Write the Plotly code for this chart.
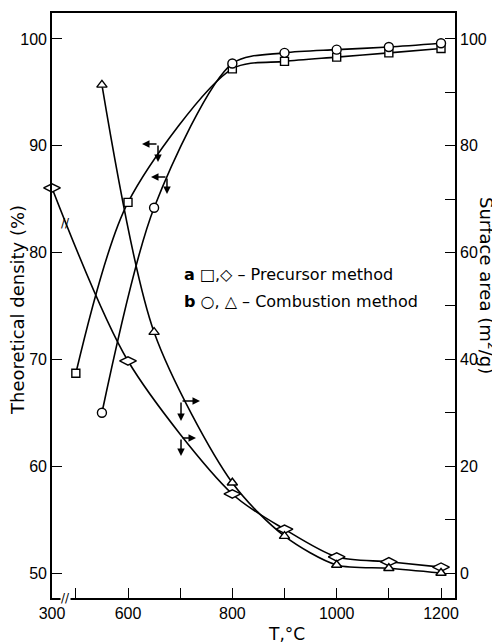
import plotly.graph_objects as go

# ---- data ----
T_sq = [500, 600, 800, 900, 1000, 1100, 1200]
dens_sq = [68.7, 84.7, 97.2, 97.9, 98.3, 98.7, 99.1]          # a, precursor, density (%)
T_ci = [550, 650, 800, 900, 1000, 1100, 1200]
dens_ci = [65.0, 84.2, 97.7, 98.7, 99.0, 99.25, 99.6]         # b, combustion, density (%)
T_di = [300, 600, 800, 900, 1000, 1100, 1200]
area_di = [72.1, 39.7, 14.8, 8.2, 3.0, 2.1, 1.1]              # a, precursor, surface area
T_tr = [550, 650, 800, 900, 1000, 1100, 1200]
area_tr = [91.4, 45.1, 16.9, 6.9, 1.5, 0.9, 0.0]              # b, combustion, surface area

x_tick_vals = [300, 500, 600, 700, 800, 900, 1000, 1100, 1200]
x_tick_text = ["300", "", "600", "", "800", "", "1000", "", "1200"]
y_ticks = [50, 60, 70, 80, 90, 100]
y2_ticks = [0, 20, 40, 60, 80, 100]

# axis geometry
X_BREAK = 454.3          # where the broken axis shows T = 300
X_RANGE = [X_BREAK, 1226.8]
Y_RANGE = [47.66, 102.43]
Y2_RANGE = [-4.68, 104.86]

W, H = 500, 644
OFF = 8                  # page body margin offsets the figure in the window
PL, PT, PW, PH = 52, 13, 403, 585   # plot area in window pixels
ML, MT = PL - OFF, PT - OFF
MR, MB = W - ML - PW, H - MT - PH
pxx = PW / (X_RANGE[1] - X_RANGE[0])
pxy = PH / (Y_RANGE[1] - Y_RANGE[0])
pxy2 = PH / (Y2_RANGE[1] - Y2_RANGE[0])


def px(xw):
    return (xw - PL) / PW


def py(yw):
    return (PT + PH - yw) / PH


def tx(t):
    return X_BREAK if t < 450 else t


BLACK = "black"
line = dict(color=BLACK, width=1.6, shape="spline", smoothing=0.8)

fig = go.Figure()
fig.add_trace(go.Scatter(x=[tx(t) for t in T_sq], y=dens_sq, mode="lines+markers",
                         line=line, cliponaxis=False,
                         marker=dict(symbol="square", size=8, color="white",
                                     line=dict(color=BLACK, width=1.4))))
fig.add_trace(go.Scatter(x=[tx(t) for t in T_ci], y=dens_ci, mode="lines+markers",
                         line=line, cliponaxis=False,
                         marker=dict(symbol="circle", size=9, color="white",
                                     line=dict(color=BLACK, width=1.4))))
fig.add_trace(go.Scatter(x=[tx(t) for t in T_di], y=area_di, mode="lines+markers",
                         line=line, yaxis="y2", cliponaxis=False,
                         marker=dict(symbol="diamond-wide", size=12, color="white",
                                     line=dict(color=BLACK, width=1.4))))
fig.add_trace(go.Scatter(x=[tx(t) for t in T_tr], y=area_tr, mode="lines+markers",
                         line=line, yaxis="y2", cliponaxis=False,
                         marker=dict(symbol="triangle-up", size=9, color="white",
                                     line=dict(color=BLACK, width=1.4))))

ann = []


def arrow(xh, yh, ax, ay, yref="y"):
    ann.append(dict(x=xh, y=yh, xref="x", yref=yref, ax=ax, ay=ay, axref="pixel",
                    ayref="pixel", text="", showarrow=True, arrowhead=2,
                    arrowsize=1.0, arrowwidth=1.5, arrowcolor=BLACK))


# left-pointing arrows (density curves -> left axis)
for (tc, yc, hl, vl) in [(657.5, 90.17, 16, 18), (674.7, 87.08, 16, 17)]:
    arrow(tc - hl / pxx, yc, hl, 0)
    arrow(tc, yc - vl / pxy, 0, -vl)
# right-pointing arrows (surface area curves -> right axis)
for (tc, yc, hl, vl) in [(701.6, 32.2, 19, 20), (701.6, 25.3, 15, 18)]:
    arrow(tc + hl / pxx, yc, -hl, 0, "y2")
    arrow(tc, yc - vl / pxy2, 0, -vl, "y2")

# axis breaks
ann.append(dict(x=X_BREAK + 13 / pxx, y=Y_RANGE[0], xref="x", yref="y", text="//",
                xanchor="center", yanchor="middle",
                showarrow=False, font=dict(size=12, color=BLACK, family="DejaVu Sans"),
                bgcolor="white", borderpad=0))
ann.append(dict(x=X_BREAK + 13 / pxx, y=65.5, xref="x", yref="y2", text="//",
                xanchor="center", yanchor="middle",
                showarrow=False, font=dict(size=12, color=BLACK, family="DejaVu Sans")))

# in-plot key
KEYF = dict(size=16, color=BLACK, family="DejaVu Sans")
ann.append(dict(x=px(182), y=py(274), xref="paper", yref="paper",
                xanchor="left", yanchor="middle", showarrow=False, font=KEYF,
                text="<b>a</b> □,◇ – Precursor method"))
ann.append(dict(x=px(182), y=py(301), xref="paper", yref="paper",
                xanchor="left", yanchor="middle", showarrow=False, font=KEYF,
                text="<b>b</b> ○, △ – Combustion method"))

# axis titles
TF = dict(size=18, color=BLACK, family="DejaVu Sans")
ann.append(dict(x=px(17), y=py(310), xref="paper", yref="paper",
                xanchor="center", yanchor="middle",
                textangle=-90, showarrow=False, font=TF, text="Theoretical density (%)"))
ann.append(dict(x=px(488), y=py(285), xref="paper", yref="paper",
                xanchor="center", yanchor="middle",
                textangle=90, showarrow=False, font=TF, text="Surface area (m<sup>2</sup>/g)"))
ann.append(dict(x=px(286), y=py(634), xref="paper", yref="paper",
                xanchor="center", yanchor="middle",
                showarrow=False, font=dict(size=17, color=BLACK, family="DejaVu Sans"),
                text="T,°C"))

TICKF = dict(size=16, color=BLACK, family="Liberation Sans")
axis_common = dict(showgrid=False, zeroline=False, showline=True, linecolor=BLACK,
                   linewidth=1.6, ticks="inside", ticklen=10, tickwidth=1.4,
                   tickcolor=BLACK, tickfont=TICKF, automargin=False)

fig.update_layout(
    width=W, height=H, margin=dict(l=ML, r=MR, t=MT, b=MB, autoexpand=False),
    paper_bgcolor="white", plot_bgcolor="white", showlegend=False,
    xaxis=dict(range=X_RANGE, tickvals=[tx(v) for v in x_tick_vals], ticktext=x_tick_text,
               mirror=True, **axis_common),
    yaxis=dict(range=Y_RANGE, tickvals=y_ticks, **axis_common),
    yaxis2=dict(range=Y2_RANGE, tickvals=y2_ticks, overlaying="y", side="right",
                minor=dict(dtick=10, tick0=0, ticks="inside", ticklen=10, tickcolor=BLACK,
                           tickwidth=1.4),
                **axis_common),
    annotations=ann,
)

fig.write_html("out.html")
